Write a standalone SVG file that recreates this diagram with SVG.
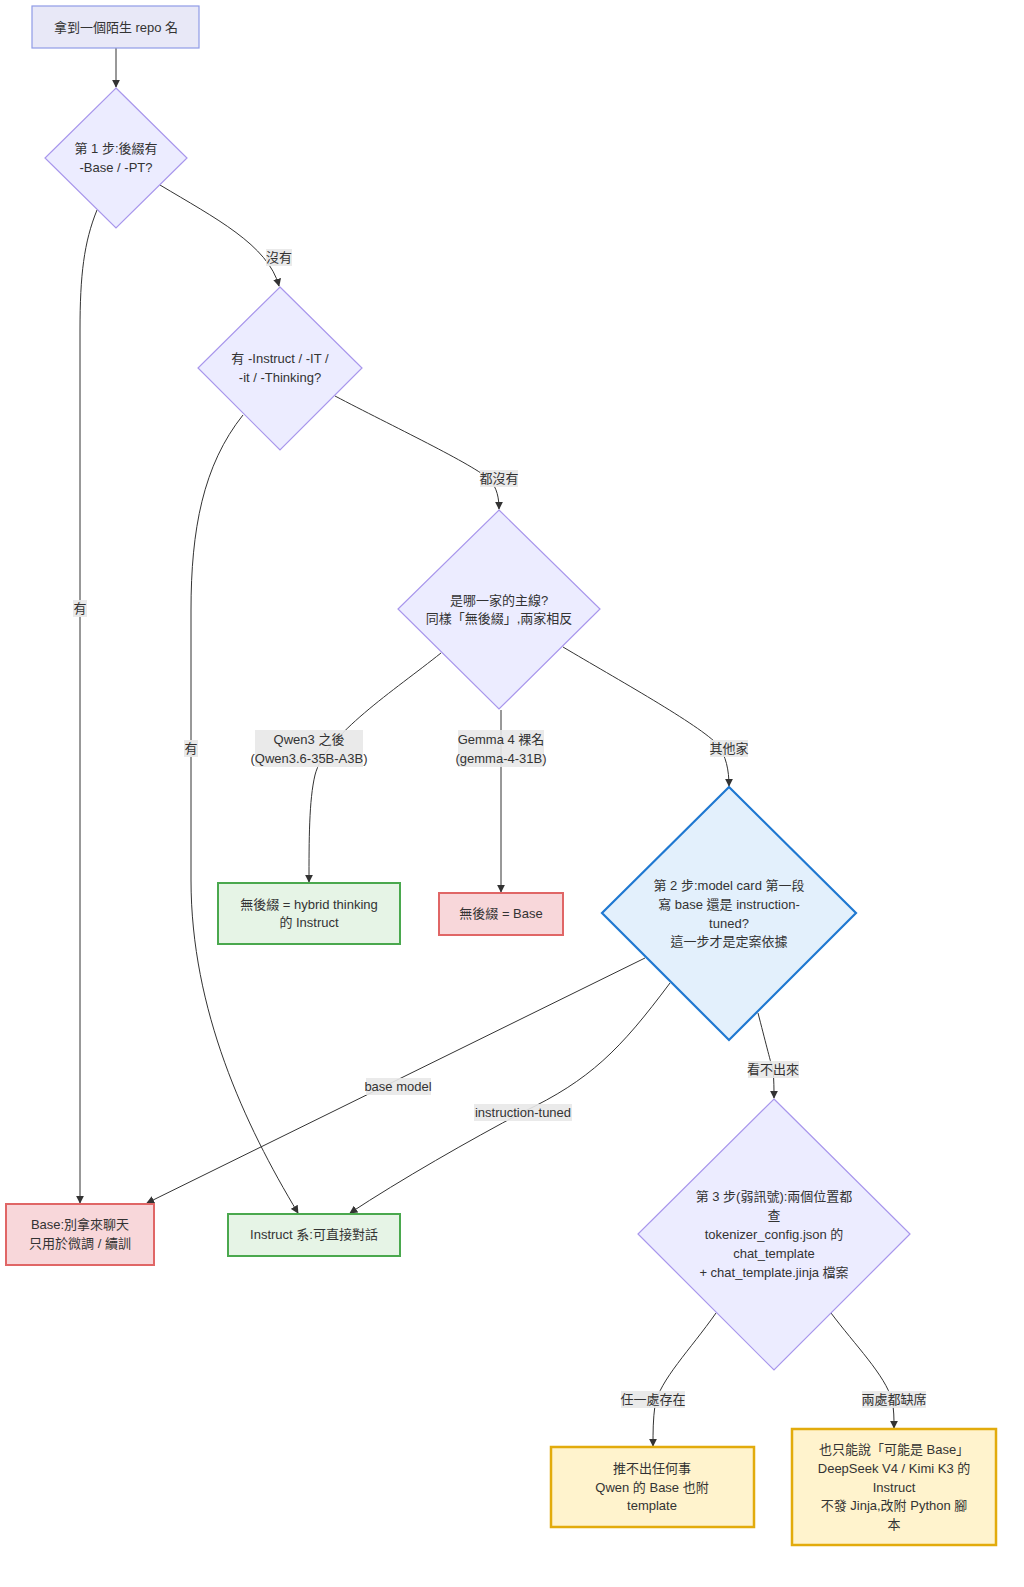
<svg xmlns="http://www.w3.org/2000/svg" width="1024" height="1587" viewBox="0 0 1024 1587">
<defs>
<marker id="arr" viewBox="0 0 10 10" refX="9" refY="5" markerWidth="8" markerHeight="8" orient="auto" markerUnits="userSpaceOnUse">
<path d="M0,0 L10,5 L0,10 z" fill="#333"/>
</marker>
<style>
text{font-family:"Liberation Sans","Noto Sans CJK TC",sans-serif;font-size:13px;fill:#333;text-anchor:middle;dominant-baseline:central}
.e{fill:none;stroke:#333;stroke-width:1;marker-end:url(#arr)}
.lb{fill:#e8e8e8;opacity:0.9}
.start{fill:#e8e8f7;stroke:#8f9be6;stroke-width:1.2}
.dia{fill:#ececff;stroke:#a896ec;stroke-width:1.2}
.blue{fill:#e3f0fc;stroke:#1f78d1;stroke-width:2.2}
.green{fill:#e6f4e6;stroke:#4aa84e;stroke-width:2}
.red{fill:#f8d7da;stroke:#e06666;stroke-width:2}
.yellow{fill:#fff3cd;stroke:#e2ab0c;stroke-width:2.5}
</style>
</defs>
<rect width="1024" height="1587" fill="#ffffff"/>

<g id="edges">
<path class="e" d="M116,48 L116,87"/>
<path class="e" d="M97,210 C84,242 80,275 80,330 L80,1203"/>
<path class="e" d="M160,185 C215,218 268,245 279,286"/>
<path class="e" d="M243,415 C203,465 191,530 191,610 L191,880 C191,1010 245,1125 298,1213"/>
<path class="e" d="M335,396 C390,425 475,465 490,480 C497,488 499,498 499,509"/>
<path class="e" d="M441,653 C395,690 325,735 315,775 C309,800 309,840 309,882"/>
<path class="e" d="M501,710 L501,892"/>
<path class="e" d="M563,647 C615,678 700,725 718,745 C726,756 729,770 729,786"/>
<path class="e" d="M645,958 L147,1203"/>
<path class="e" d="M670,983 C620,1050 590,1080 523,1112 C470,1140 400,1180 350,1213"/>
<path class="e" d="M758,1013 C765,1040 770,1060 773,1070 C774,1080 774,1090 774,1098"/>
<path class="e" d="M716,1313 C690,1350 660,1380 655,1405 C653,1420 653,1432 653,1446"/>
<path class="e" d="M831,1313 C855,1345 885,1375 892,1400 C894,1410 894,1418 894,1428"/>
</g>

<g id="edge-labels">
<rect class="lb" x="73" y="600" width="14" height="17"/><text x="80" y="608.5">有</text>
<rect class="lb" x="266" y="249" width="26" height="17"/><text x="279" y="257.5">沒有</text>
<rect class="lb" x="184" y="740" width="14" height="17"/><text x="191" y="748.5">有</text>
<rect class="lb" x="480" y="470" width="38" height="17"/><text x="499" y="478.5">都沒有</text>
<rect class="lb" x="255" y="730" width="108" height="37"/><text x="309" y="739">Qwen3 之後</text><text x="309" y="758">(Qwen3.6-35B-A3B)</text>
<rect class="lb" x="458" y="730" width="86" height="37"/><text x="501" y="739">Gemma 4 裸名</text><text x="501" y="758">(gemma-4-31B)</text>
<rect class="lb" x="710" y="740" width="38" height="17"/><text x="729" y="748.5">其他家</text>
<rect class="lb" x="366" y="1078" width="65" height="17"/><text x="398" y="1086.5">base model</text>
<rect class="lb" x="474" y="1104" width="98" height="17"/><text x="523" y="1112.5">instruction-tuned</text>
<rect class="lb" x="748" y="1061" width="51" height="17"/><text x="773" y="1069.5">看不出來</text>
<rect class="lb" x="621" y="1391" width="64" height="17"/><text x="653" y="1399.5">任一處存在</text>
<rect class="lb" x="862" y="1391" width="64" height="17"/><text x="894" y="1399.5">兩處都缺席</text>
</g>

<g id="n-start">
<rect class="start" x="32" y="6" width="167" height="42"/>
<text x="116" y="27">拿到一個陌生 repo 名</text>
</g>

<g id="n-step1">
<polygon class="dia" points="116,88 187,158 116,228 45,158"/>
<text x="116" y="148">第 1 步:後綴有</text>
<text x="116" y="167">-Base / -PT?</text>
</g>

<g id="n-instruct-suffix">
<polygon class="dia" points="280,287 362,368 280,450 198,368"/>
<text x="280" y="358">有 -Instruct / -IT /</text>
<text x="280" y="377">-it / -Thinking?</text>
</g>

<g id="n-family">
<polygon class="dia" points="499,510 600,609 499,709 398,609"/>
<text x="499" y="600">是哪一家的主線?</text>
<text x="499" y="618">同樣「無後綴」,兩家相反</text>
</g>

<g id="n-qwen">
<rect class="green" x="218" y="883" width="182" height="61"/>
<text x="309" y="904">無後綴 = hybrid thinking</text>
<text x="309" y="922">的 Instruct</text>
</g>

<g id="n-gemma">
<rect class="red" x="439" y="893" width="124" height="42"/>
<text x="501" y="913">無後綴 = Base</text>
</g>

<g id="n-step2">
<polygon class="blue" points="729,787 856,913 729,1040 602,913"/>
<text x="729" y="885">第 2 步:model card 第一段</text>
<text x="729" y="904">寫 base 還是 instruction-</text>
<text x="729" y="923">tuned?</text>
<text x="729" y="941">這一步才是定案依據</text>
</g>

<g id="n-base">
<rect class="red" x="6" y="1204" width="148" height="61"/>
<text x="80" y="1224">Base:別拿來聊天</text>
<text x="80" y="1243">只用於微調 / 續訓</text>
</g>

<g id="n-instruct">
<rect class="green" x="228" y="1214" width="172" height="42"/>
<text x="314" y="1234">Instruct 系:可直接對話</text>
</g>

<g id="n-step3">
<polygon class="dia" points="774,1099 910,1234 774,1370 638,1234"/>
<text x="774" y="1196">第 3 步(弱訊號):兩個位置都</text>
<text x="774" y="1215">查</text>
<text x="774" y="1234">tokenizer_config.json 的</text>
<text x="774" y="1253">chat_template</text>
<text x="774" y="1272">+ chat_template.jinja 檔案</text>
</g>

<g id="n-nothing">
<rect class="yellow" x="551" y="1447" width="203" height="80"/>
<text x="652" y="1468">推不出任何事</text>
<text x="652" y="1487">Qwen 的 Base 也附</text>
<text x="652" y="1505">template</text>
</g>

<g id="n-maybe-base">
<rect class="yellow" x="792" y="1429" width="204" height="116"/>
<text x="894" y="1449">也只能說「可能是 Base」</text>
<text x="894" y="1468">DeepSeek V4 / Kimi K3 的</text>
<text x="894" y="1487">Instruct</text>
<text x="894" y="1505">不發 Jinja,改附 Python 腳</text>
<text x="894" y="1524">本</text>
</g>
</svg>
